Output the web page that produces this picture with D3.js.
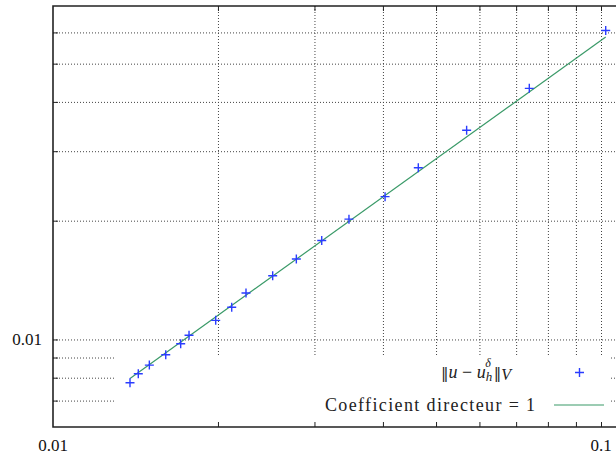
<!DOCTYPE html>
<html><head><meta charset="utf-8">
<script src="https://cdn.jsdelivr.net/npm/d3@7"></script>
<style>html,body{margin:0;padding:0;background:#fff;}svg{display:block;}</style>
</head><body>
<svg id="c" width="616" height="457"></svg>
<script>
// Data
const hValues   = [0.01382,0.01431,0.01499,0.01606,0.01710,0.01771,0.01981,0.02119,0.02250,0.02517,0.02780,0.03093,0.03468,0.04036,0.04641,0.05686,0.07399,0.1020];
const errValues = [0.00777,0.00819,0.00861,0.00915,0.00975,0.01025,0.01118,0.01207,0.01312,0.01450,0.01599,0.01781,0.02018,0.02301,0.02723,0.03391,0.04329,0.06066];
const slopeX = [0.01382, 0.1020];
const slopeY = [0.00796, 0.0584];
const xGrid = [0.02,0.03,0.04,0.05,0.06,0.07,0.08,0.09,0.1];
const yGrid = [0.007,0.008,0.009,0.01,0.02,0.03,0.04,0.05,0.06];
const xLabels = [0.01, 0.1];
const yLabels = [0.01];

const SERIF_STYLE = "font-family: 'Liberation Serif', 'Tinos', 'Times New Roman' !important;";
const DV_STYLE = "font-family: 'DejaVu Serif' !important;";
const svg = d3.select("#c");
const L = 53, B = 427, T = 6, R = 680;
const x = d3.scaleLog().domain([0.01, 0.1]).range([53, 601]);
const y = d3.scaleLog().domain([0.006, 0.07]).range([B, T]);

// grid
const gx = svg.append("g").attr("transform", `translate(0,${B})`)
  .call(d3.axisBottom(x).tickValues(xGrid).tickSize(-(B - T)).tickFormat(""));
const gy = svg.append("g").attr("transform", `translate(${L},0)`)
  .call(d3.axisLeft(y).tickValues(yGrid).tickSize(-(R - L)).tickFormat(""));
[gx, gy].forEach(g => {
  g.select(".domain").remove();
  g.selectAll("text").remove();
  g.selectAll("line").attr("stroke", "#444").attr("stroke-width", 1).attr("stroke-dasharray", "1,2");
});

// opaque legend box
svg.append("rect").attr("x", 115).attr("y", 355).attr("width", 496).attr("height", B - 355).attr("fill", "#fff");

// tick marks (inward)
const tb = svg.append("g").attr("transform", `translate(0,${B})`)
  .call(d3.axisTop(x).tickValues(xGrid).tickSize(5).tickFormat(""));
const tt = svg.append("g").attr("transform", `translate(0,${T})`)
  .call(d3.axisBottom(x).tickValues(xGrid).tickSize(5).tickFormat(""));
const tl = svg.append("g").attr("transform", `translate(${L},0)`)
  .call(d3.axisRight(y).tickValues(yGrid).tickSize(5).tickFormat(""));
[tb, tt, tl].forEach(g => {
  g.select(".domain").remove();
  g.selectAll("text").remove();
  g.selectAll("line").attr("stroke", "#222").attr("stroke-width", 1);
});

// frame
svg.append("path").attr("d", `M${R},${T}H${L}V${B}H${R}`)
  .attr("fill", "none").attr("stroke", "#222").attr("stroke-width", 1.6);

// tick labels
svg.selectAll("text.xl").data(xLabels).join("text").attr("class", "xl")
  .attr("x", d => x(d)).attr("y", 451).attr("text-anchor", "middle")
  .attr("style", SERIF_STYLE + "font-size:17px;").attr("fill", "#111")
  .text(d => d3.format("")(d));
svg.selectAll("text.yl").data(yLabels).join("text").attr("class", "yl")
  .attr("x", 42).attr("y", d => y(d) + 6).attr("text-anchor", "end")
  .attr("style", SERIF_STYLE + "font-size:17px;").attr("fill", "#111")
  .text(d => d3.format("")(d));

// slope line
svg.append("path").datum(slopeX.map((d, i) => [d, slopeY[i]]))
  .attr("d", d3.line().x(d => x(d[0])).y(d => y(d[1])))
  .attr("fill", "none").attr("stroke", "#3a9a68").attr("stroke-width", 1.2);

// points
const pts = hValues.map((d, i) => [d, errValues[i]]);
svg.append("g").selectAll("path").data(pts).join("path")
  .attr("d", d => { const cx = x(d[0]), cy = y(d[1]); return `M${cx-4.5},${cy}H${cx+4.5}M${cx},${cy-4.5}V${cy+4.5}`; })
  .attr("stroke", "#2a3cff").attr("stroke-width", 1.4).attr("fill", "none");

// legend
const t1 = svg.append("text").attr("x", 441).attr("y", 378).attr("fill", "#222")
  .attr("style", SERIF_STYLE + "font-size:18px;");
t1.append("tspan").attr("style", DV_STYLE + "font-size:15px;").text("\u2016");
t1.append("tspan").attr("font-style", "italic").text("u");
t1.append("tspan").text(" \u2212 ");
t1.append("tspan").attr("font-style", "italic").text("u");
t1.append("tspan").attr("font-style", "italic").attr("font-size", 13).attr("dy", 3).text("h");
t1.append("tspan").attr("font-style", "italic").attr("font-size", 12).attr("dx", -7).attr("dy", -14).text("\u03b4");
t1.append("tspan").attr("style", DV_STYLE + "font-size:15px;").attr("dx", 3).attr("dy", 11).text("\u2016");
t1.append("tspan").attr("font-style", "italic").attr("font-size", 16).attr("dy", 2).text("V");
svg.append("path").attr("d", "M575,372.5H584M579.5,368V377").attr("stroke", "#2a3cff").attr("stroke-width", 1.4);

svg.append("text").attr("x", 325).attr("y", 411).attr("fill", "#222")
  .attr("style", SERIF_STYLE + "font-size:18px;")
  .attr("textLength", 210).attr("lengthAdjust", "spacing").text("Coefficient directeur = 1");
svg.append("path").attr("d", "M554,405H604").attr("stroke", "#3a9a68").attr("stroke-width", 1.2);
</script>
</body></html>
